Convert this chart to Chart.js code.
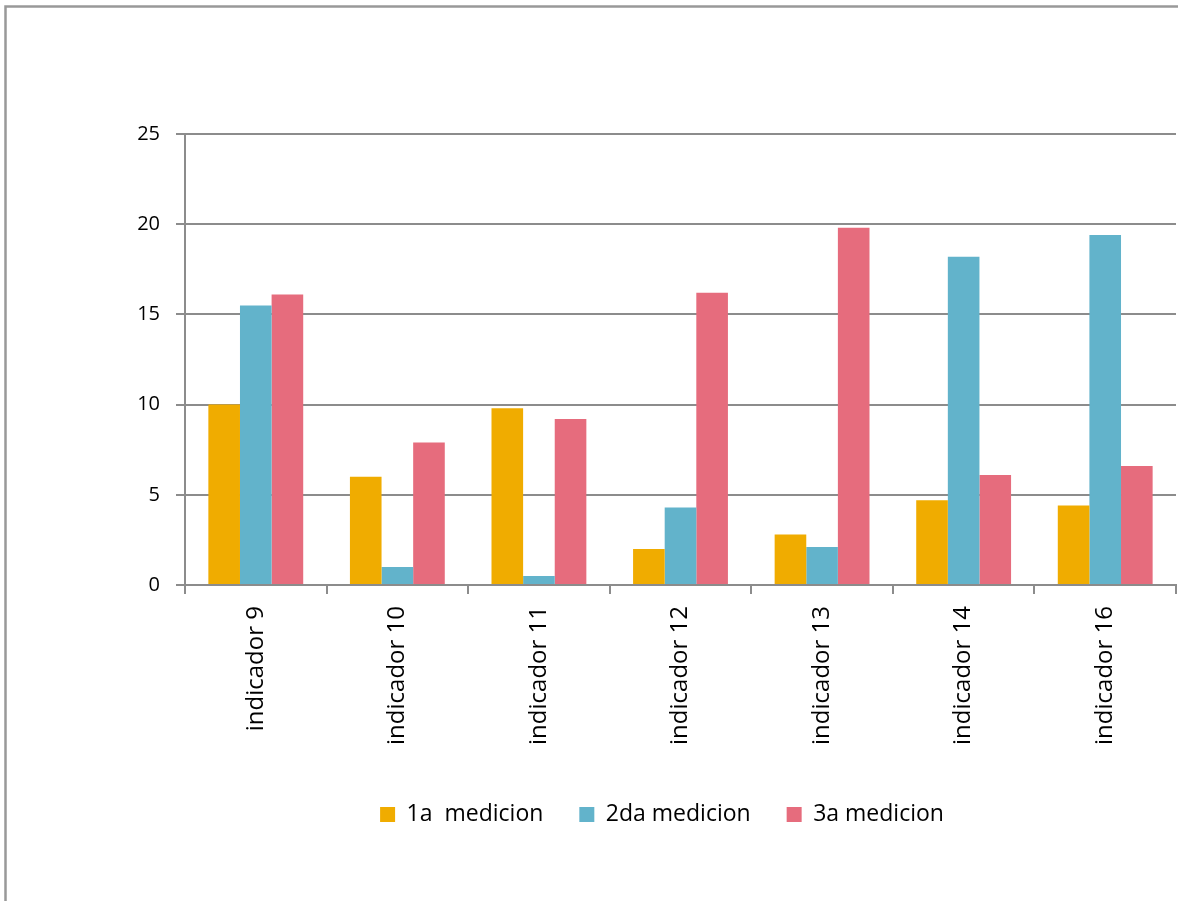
<!DOCTYPE html>
<html>
<head>
<meta charset="utf-8">
<script src="https://cdn.jsdelivr.net/npm/chart.js@4.4.1/dist/chart.umd.min.js"></script>
<style>
html,body{margin:0;padding:0;background:#fff;}
#wrap{position:absolute;left:0;top:0;width:1178px;height:901px;}
</style>
</head>
<body>
<div id="wrap"><canvas id="c" width="1178" height="901"></canvas></div>
<script>
const categories = ["indicador 9","indicador 10","indicador 11","indicador 12","indicador 13","indicador 14","indicador 16"];
const seriesNames = ["1a  medicion","2da medicion","3a medicion"];
const medicion1 = [10.0, 6.0, 9.8, 2.0, 2.8, 4.7, 4.4];
const medicion2 = [15.5, 1.0, 0.5, 4.3, 2.1, 18.2, 19.4];
const medicion3 = [16.1, 7.9, 9.2, 16.2, 19.8, 6.1, 6.6];
const yTicks = [0, 5, 10, 15, 20, 25];
const colors = ["#F0AC00", "#62B3CB", "#E66C7D"];

const FONT = "'Open Sans', 'DejaVu Sans', sans-serif";

const frame = {
  id: 'frame',
  beforeDraw(chart) {
    const ctx = chart.ctx;
    ctx.save();
    ctx.strokeStyle = '#999999';
    ctx.lineWidth = 2.5;
    ctx.beginPath();
    ctx.moveTo(5.5, 901);
    ctx.lineTo(5.5, 6.5);
    ctx.lineTo(1178, 6.5);
    ctx.stroke();
    ctx.restore();
  }
};

const legendShift = {
  id: 'legendShift',
  afterLayout(chart) {
    const lg = chart.legend;
    if (lg) { lg.left += 74; lg.right += 74; }
  }
};

new Chart(document.getElementById('c'), {
  type: 'bar',
  data: {
    labels: categories,
    datasets: [
      { label: seriesNames[0], data: medicion1, backgroundColor: colors[0] },
      { label: seriesNames[1], data: medicion2, backgroundColor: colors[1] },
      { label: seriesNames[2], data: medicion3, backgroundColor: colors[2] }
    ]
  },
  options: {
    responsive: false,
    animation: false,
    devicePixelRatio: 1,
    layout: { padding: { top: 134, right: 2, left: 0, bottom: 65 } },
    datasets: { bar: { categoryPercentage: 0.67, barPercentage: 1.0 } },
    plugins: {
      tooltip: { enabled: false },
      legend: {
        position: 'bottom',
        labels: {
          font: { family: FONT, size: 23 },
          color: '#000',
          boxWidth: 15,
          boxHeight: 15,
          padding: 36
        }
      }
    },
    scales: {
      x: {
        grid: { display: true, drawOnChartArea: false, drawTicks: true, tickLength: 9, color: '#8c8c8c', lineWidth: 2, offset: true },
        border: { display: true, color: '#8c8c8c', width: 2 },
        ticks: {
          minRotation: 90, maxRotation: 90,
          font: { family: FONT, size: 24 },
          color: '#000',
          padding: 12
        },
        afterFit(scale) { scale.height = 182; }
      },
      y: {
        min: 0, max: 25,
        afterBuildTicks(scale) { scale.ticks = yTicks.map(v => ({ value: v })); },
        grid: { color: '#8c8c8c', lineWidth: 2, tickLength: 9, drawTicks: true },
        border: { display: true, color: '#8c8c8c', width: 2 },
        ticks: {
          font: { family: FONT, size: 20 },
          color: '#000',
          padding: 16
        },
        afterFit(scale) { scale.width = 185; }
      }
    }
  },
  plugins: [frame, legendShift]
});
</script>
</body>
</html>
